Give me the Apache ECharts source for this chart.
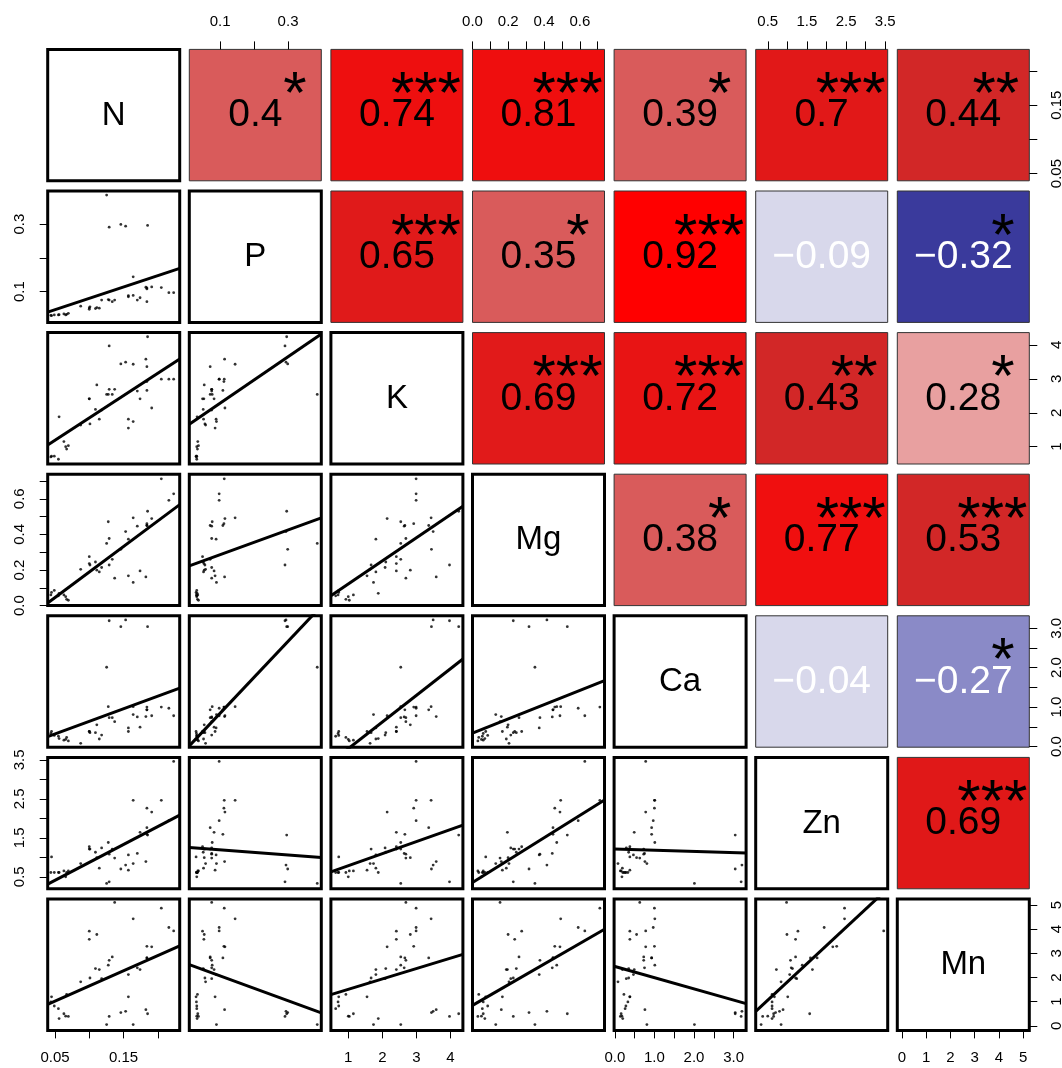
<!DOCTYPE html>
<html><head><meta charset="utf-8">
<script src="https://cdn.jsdelivr.net/npm/echarts@6/dist/echarts.min.js"></script>
<style>html,body{margin:0;padding:0;background:#fff}#c{width:1062px;height:1068px}</style>
</head><body><div id="c"></div>
<script>
const FONT = "'Liberation Sans', Arial, Helvetica, sans-serif";
const names = ['N', 'P', 'K', 'Mg', 'Ca', 'Zn', 'Mn'];

// observations (one entry per sample)
const N  = [0.1253,0.129,0.146,0.153,0.185,0.223,0.216,0.205,0.191,0.184,0.184,0.1825,0.184,0.174,0.170,0.164,0.164,0.157,0.157,0.137,0.1335,0.1277,0.129,0.118,0.1146,0.111,0.109,0.101,0.100,0.100,0.0875,0.0695,0.067,0.063,0.056,0.055,0.049,0.045,0.044,0.0656];
const P  = [0.386,0.291,0.299,0.294,0.296,0.097,0.097,0.112,0.114,0.111,0.0705,0.113,0.108,0.082,0.075,0.144,0.089,0.088,0.085,0.075,0.0705,0.0765,0.075,0.075,0.051,0.053,0.050,0.055,0.048,0.052,0.057,0.036,0.033,0.034,0.032,0.031,0.031,0.029,0.030,0.031];
const K  = [2.54,3.97,3.44,3.49,4.24,2.99,2.99,2.99,2.14,2.92,3.36,3.58,2.66,2.41,2.64,3.43,1.74,1.81,1.55,2.69,2.54,2.54,2.69,2.08,1.81,2.82,2.10,1.67,2.41,2.41,1.64,1.03,0.93,1.15,1.88,0.63,0.72,0.72,0.70,1.00];
const Mg = [0.349,0.228,0.316,0.416,0.530,0.628,0.591,0.712,0.489,0.46,0.45,0.161,0.45,0.195,0.446,0.493,0.130,0.373,0.167,0.154,0.260,0.471,0.377,0.214,0.189,0.199,0.245,0.228,0.275,0.236,0.204,0.030,0.035,0.060,0.069,0.055,0.085,0.074,0.060,0.050];
const Ca = [2.01,3.19,3.04,3.21,3.04,0.78,0.97,1.00,0.78,1.00,0.93,0.76,0.93,0.49,0.75,1.01,0.81,0.47,0.38,0.63,0.73,1.01,0.73,0.29,0.19,0.55,0.35,0.35,0.38,0.38,0.08,0.14,0.23,0.16,0.20,0.26,0.28,0.38,0.33,0.18];
const Zn = [0.33,0.37,0.70,0.80,1.57,3.46,1.94,2.46,2.16,2.26,1.76,0.89,1.59,1.64,1.10,2.46,0.84,1.06,0.67,0.98,1.21,1.38,1.08,1.24,0.72,0.99,1.13,1.21,1.27,1.21,0.84,0.65,0.61,0.65,0.61,0.61,0.61,1.01,0.61,0.50];
const Mn = [0.05,0.39,0.55,0.60,0.50,3.93,4.07,4.87,3.27,3.29,2.81,0.67,2.81,2.33,2.40,4.43,0.05,2.12,1.20,5.11,2.85,2.51,2.71,1.95,2.33,3.78,2.37,1.98,3.92,3.58,1.82,0.39,1.30,0.50,0.30,0.71,0.82,1.20,0.99,0.40];
const columns = [N, P, K, Mg, Ca, Zn, Mn];

// axis limits of each variable
const axisMin = [0.0394, 0.009, 0.49, 0.0, -0.018, 0.192, -0.19];
const axisMax = [0.2318, 0.398, 4.363, 0.738, 3.315, 3.562, 5.25];

// tick marks and tick labels
const ticksN  = [0.05, 0.10, 0.15, 0.20];
const ticksP  = [0.1, 0.2, 0.3];
const ticksK  = [1, 2, 3, 4];
const ticksMg = [0.0, 0.1, 0.2, 0.3, 0.4, 0.5, 0.6, 0.7];
const ticksCa = [0.0, 0.5, 1.0, 1.5, 2.0, 2.5, 3.0];
const ticksZn = [0.5, 1.0, 1.5, 2.0, 2.5, 3.0, 3.5];
const ticksMn = [0, 1, 2, 3, 4, 5];
const labelsN  = ['0.05', '0.15'];
const labelsP  = ['0.1', '0.3'];
const labelsK  = ['1', '2', '3', '4'];
const labelsMg = ['0.0', '0.2', '0.4', '0.6'];
const labelsCa = ['0.0', '1.0', '2.0', '3.0'];
const labelsZn = ['0.5', '1.5', '2.5', '3.5'];
const labelsMn = ['0', '1', '2', '3', '4', '5'];
const tickSets  = [ticksN, ticksP, ticksK, ticksMg, ticksCa, ticksZn, ticksMn];
const labelSets = [labelsN, labelsP, labelsK, labelsMg, labelsCa, labelsZn, labelsMn];

// upper triangle (row-major): correlation, stars, fill
const corrText  = ['0.4','0.74','0.81','0.39','0.7','0.44','0.65','0.35','0.92','\u22120.09','\u22120.32','0.69','0.72','0.43','0.28','0.38','0.77','0.53','\u22120.04','\u22120.27','0.69'];
const corrStars = ['*','***','***','*','***','**','***','*','***','','*','***','***','**','*','*','***','***','','*','***'];
const corrFill  = ['#D95B5B','#EE0F0F','#EF0E0E','#D95B5B','#E11818','#D22727','#E01A1A','#D95B5B','#FF0000','#D8D8EB','#3A3A9C','#E11A1A','#E81414','#D22727','#E8A0A0','#D95B5B','#F00F0F','#D22727','#D8D8EB','#8A8AC7','#E01818'];

// lower triangle (row-major): fitted line, y at x-axis min and at x-axis max
const fitStart = [0.0395, 1.05, 1.66, 0.015, 0.223, 0.055, 0.251, 0.015, -0.40, 0.337, 0.313, 1.254, 0.628, 0.356, 1.21, 0.89, 2.535, 1.29, 0.848, 2.465, 0.60];
const fitEnd   = [0.169, 3.585, 4.32, 0.567, 0.493, 0.558, 1.479, 3.56, 2.22, 1.673, 2.082, 0.997, 1.826, 2.467, 1.108, 3.31, 0.533, 2.96, 4.0, 0.92, 5.68];

// ---------- layout ----------
const L0 = 47.7, T0 = 49.4, STEP = 141.6, W = 132, H = 131.4;

const grids = [], xAxes = [], yAxes = [], series = [], texts = [];
let up = 0, lo = 0;

function axisCfg(varIdx, k, show, pos, isY) {
  const labs = labelSets[varIdx];
  return {
    gridIndex: k, type: 'value', min: axisMin[varIdx], max: axisMax[varIdx],
    position: pos, show: show,
    axisLine: { show: false, onZero: false }, splitLine: { show: false },
    axisTick: { show: true, inside: false, length: 8, lineStyle: { color: '#000', width: 1 },
                customValues: tickSets[varIdx] },
    axisLabel: {
      show: true, margin: 20, fontSize: 15, color: '#000', fontFamily: FONT,
      rotate: isY ? 90 : 0, showMinLabel: true, showMaxLabel: true,
      customValues: labs.map(Number),
      formatter: function (v) {
        for (const s of labs) if (Math.abs(Number(s) - v) < 1e-9) return s;
        return '';
      }
    }
  };
}

for (let i = 0; i < 7; i++) {
  for (let j = 0; j < 7; j++) {
    const k = i * 7 + j;
    const left = L0 + j * STEP, top = T0 + i * STEP;
    const kind = i === j ? 'diag' : (i < j ? 'upper' : 'lower');
    if (kind === 'upper') {
      grids.push({ left: left, top: top, width: W, height: H, show: true,
        backgroundColor: corrFill[up], borderColor: '#333', borderWidth: 1, outerBoundsMode: 'none' });
    } else {
      grids.push({ left: left, top: top, width: W, height: H, show: true,
        backgroundColor: '#fff', borderColor: '#000', borderWidth: 3, outerBoundsMode: 'none' });
    }
    const showTop = i === 0 && j % 2 === 1;
    const showBottom = i === 6 && j % 2 === 0;
    const showLeft = j === 0 && i % 2 === 1;
    const showRight = j === 6 && i % 2 === 0;
    xAxes.push(axisCfg(j, k, showTop || showBottom, showTop ? 'top' : 'bottom', false));
    yAxes.push(axisCfg(i, k, showLeft || showRight, showRight ? 'right' : 'left', true));

    const cx = left + W / 2, cy = top + H / 2;
    if (kind === 'diag') {
      texts.push({ type: 'text', x: cx, y: cy + 0.5, z: 100,
        style: { text: names[i], fontSize: 33, fontFamily: FONT, fill: '#000',
                 align: 'center', verticalAlign: 'middle', textAlign: 'center', textVerticalAlign: 'middle' } });
    } else if (kind === 'upper') {
      const neg = corrText[up].charAt(0) === '\u2212';
      texts.push({ type: 'text', x: cx, y: cy + 0.5, z: 100,
        style: { text: corrText[up], fontSize: 39, fontFamily: FONT, fill: neg ? '#fff' : '#000',
                 align: 'center', verticalAlign: 'middle', textAlign: 'center', textVerticalAlign: 'middle' } });
      const st = corrStars[up];
      if (st) {
        const off = st.length === 1 ? 105.5 : (st.length === 2 ? 98.5 : 95);
        texts.push({ type: 'text', x: left + off, y: top + 47, z: 101,
          style: { text: st, fontSize: 60, fontFamily: FONT, fill: '#000',
                   align: 'center', verticalAlign: 'middle', textAlign: 'center', textVerticalAlign: 'middle' } });
      }
      up++;
    } else {
      const xs = columns[j], ys = columns[i];
      series.push({ type: 'scatter', xAxisIndex: k, yAxisIndex: k, silent: true,
        symbol: 'circle', symbolSize: 2.8, itemStyle: { color: '#000' },
        data: xs.map((v, n) => [v, ys[n]]) });
      series.push({ type: 'line', xAxisIndex: k, yAxisIndex: k, silent: true, clip: true,
        showSymbol: false, symbol: 'none',
        lineStyle: { color: '#000', width: 3, cap: 'butt' },
        data: [[axisMin[j], fitStart[lo]], [axisMax[j], fitEnd[lo]]] });
      lo++;
    }
  }
}

const chart = echarts.init(document.getElementById('c'), null, { renderer: 'canvas' });
chart.setOption({
  animation: false,
  backgroundColor: '#fff',
  grid: grids, xAxis: xAxes, yAxis: yAxes, series: series,
  graphic: { elements: texts }
});
</script></body></html>
